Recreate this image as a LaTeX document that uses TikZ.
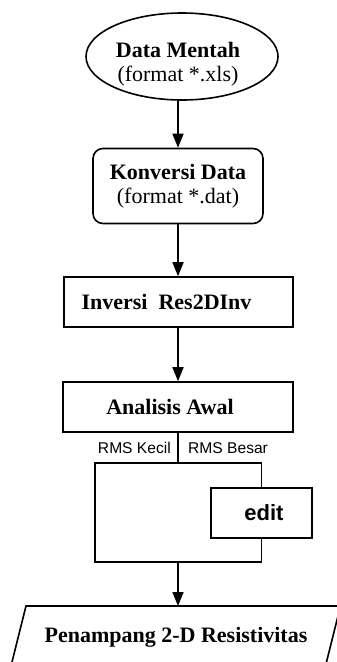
\documentclass[tikz,border=0pt]{standalone}
\usepackage{fontspec}
\setmainfont{Liberation Serif}
\setsansfont{Liberation Sans}
\usetikzlibrary{shapes.geometric,arrows.meta}

\tikzset{
  garis/.style={line width=1.6pt},
  proses/.style={draw,line width=1.6pt,minimum height=50pt,inner sep=0pt,
    font=\fontsize{22}{24}\selectfont\bfseries},
  panah/.style={line width=1.6pt,-{Triangle[length=14pt,width=11pt]}},
  rms/.style={font=\sffamily\fontsize{15.6}{18}\selectfont,inner sep=0pt},
}

\begin{document}
\begin{tikzpicture}[x=1pt,y=-1pt]
        \useasboundingbox (0,0) rectangle (337,662);
        \clip (0,0) rectangle (337,662);

        % data masukan
        \node[draw,ellipse,garis,minimum width=192pt,minimum height=87pt,inner sep=0pt] (mentah) at (182,56.5) {};
        \node[align=center,font=\fontsize{22}{24}\selectfont] (mentahteks) at (178,64.5) {\textbf{Data Mentah}\\(format *.xls)};

        % tahap pengolahan
        \node[proses,rounded corners=10pt,minimum width=170pt,minimum height=75pt,align=center] (konversi) at (178,186) {Konversi Data\\\mdseries(format *.dat)};
        \node[proses,minimum width=229pt] (inversi) at (178.5,302) {Inversi\ \ Res2DInv\kern24pt};
        \node[proses,minimum width=230pt] (analisis) at (178,407) {Analisis Awal\kern16pt};
        \node[proses,minimum width=101pt,font=\sffamily\fontsize{22}{24}\selectfont\bfseries] (edit) at (261.5,513) {\kern5pt edit};

        % percabangan RMS
        \coordinate (cabang) at (178,463);
        \coordinate (kiri) at (95,463);
        \coordinate (gabung) at (178,562);
        \node[rms,anchor=base east] (kecil) at (171,453) {RMS Kecil};
        \node[rms,anchor=base west] (besar) at (188,453) {RMS Besar};

        % hasil akhir
        \coordinate (atas) at (178,606);
        \draw[garis] (26,606) -- (340.5,606) -- (324,672) -- (9.5,672) -- cycle;
        \node[font=\fontsize{22}{24}\selectfont\bfseries,anchor=base] (penampang) at (176,642) {Penampang 2-D Resistivitas};

        % panah alur
        \draw[panah] (mentah.south -| konversi.north) -- (konversi.north);
        \draw[panah] (konversi.south) -- (konversi.south |- inversi.north);
        \draw[panah] (inversi.south -| analisis.north) -- (analisis.north);
        \draw[garis] (analisis.south) -- (cabang);
        \draw[garis] (cabang) -- (kiri) |- (gabung);
        \draw[garis] (cabang) -| (edit.north);
        \draw[garis] (edit.south) |- (gabung);
        \draw[panah] (gabung) -- (atas);
    \end{tikzpicture}
\end{document}
